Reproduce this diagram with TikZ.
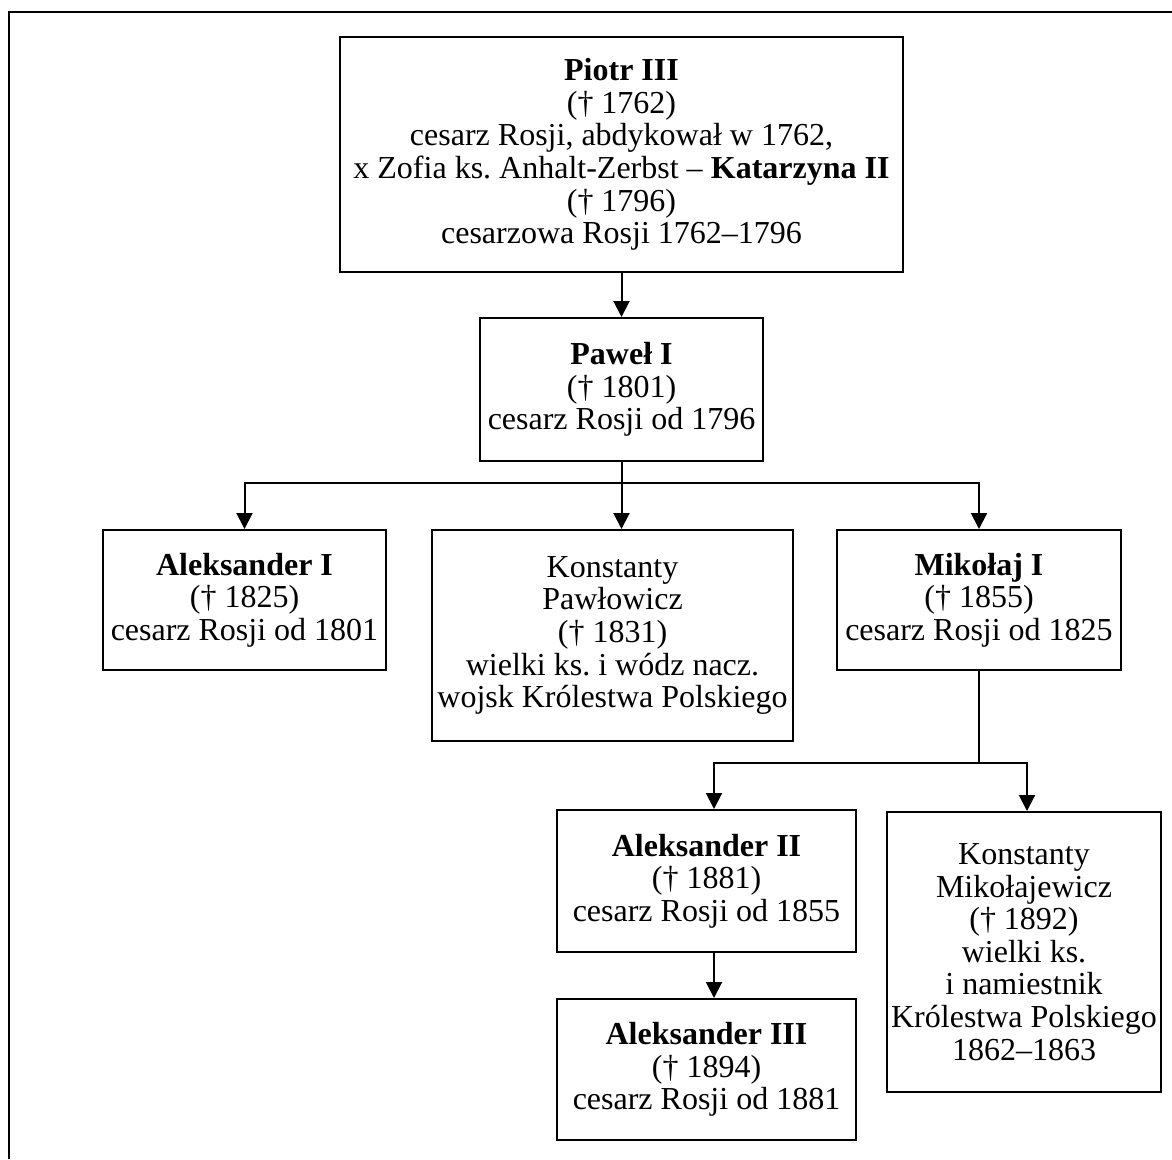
\documentclass[tikz,border=0pt]{standalone}
\usepackage{fontspec}
\setmainfont{Liberation Serif}
\usetikzlibrary{arrows.meta}
\begin{document}
\frenchspacing
\begin{tikzpicture}[x=1pt,y=-1pt,
 box/.style={draw, line width=2pt, align=center, inner sep=0pt, rectangle, font=\fontsize{32}{32.6}\selectfont},
 conn/.style={line width=2pt, -{Triangle[width=16pt,length=16pt]}},
 plain/.style={line width=2pt}]
\useasboundingbox (0,0) rectangle (1172,1159);
\draw[plain] (9,1159) -- (9,12) -- (1172,12);

\node[box, minimum width=563pt, minimum height=235pt] (p) at (621.5,154.5)
 {\textbf{Piotr III}\\(† 1762)\\cesarz Rosji, abdykował w 1762,\\x Zofia ks. Anhalt-Zerbst – \textbf{Katarzyna II}\\(† 1796)\\cesarzowa Rosji 1762–1796};
\node[box, minimum width=283pt, minimum height=143pt] (pw) at (621.5,389.5)
 {\textbf{Paweł I}\\(† 1801)\\cesarz Rosji od 1796};
\node[box, minimum width=283pt, minimum height=140pt] (a1) at (244.5,600)
 {\textbf{Aleksander I}\\(† 1825)\\cesarz Rosji od 1801};
\node[box, minimum width=361pt, minimum height=211pt] (kp) at (612.5,635.5)
 {Konstanty\\Pawłowicz\\(† 1831)\\wielki ks. i wódz nacz.\\wojsk Królestwa Polskiego};
\node[box, minimum width=284pt, minimum height=140pt] (m) at (979,600)
 {\textbf{Mikołaj I}\\(† 1855)\\cesarz Rosji od 1825};
\node[box, minimum width=299pt, minimum height=142pt] (a2) at (706.5,881)
 {\textbf{Aleksander II}\\(† 1881)\\cesarz Rosji od 1855};
\node[box, minimum width=274pt, minimum height=280pt] (km) at (1024,952)
 {Konstanty\\Mikołajewicz\\(† 1892)\\wielki ks.\\i namiestnik\\Królestwa Polskiego\\1862–1863};
\node[box, minimum width=299pt, minimum height=141pt] (a3) at (706.5,1069.5)
 {\textbf{Aleksander III}\\(† 1894)\\cesarz Rosji od 1881};

\draw[conn] (p.south) -- (pw.north);
\coordinate (j1) at (621.5,483);
\draw[plain] (pw.south) -- (j1);
\draw[conn] (j1) -| (a1.north);
\draw[conn] (j1) -- (j1 |- kp.north);
\draw[conn] (j1) -| (m.north);
\coordinate (j2) at (979,763);
\draw[plain] (m.south) -- (j2);
\draw[conn] (j2) -| ([xshift=7.5pt]a2.north);
\draw[conn] (j2) -| ([xshift=3pt]km.north);
\draw[conn] ([xshift=7.5pt]a2.south) -- ([xshift=7.5pt]a3.north);
\end{tikzpicture}
\end{document}
